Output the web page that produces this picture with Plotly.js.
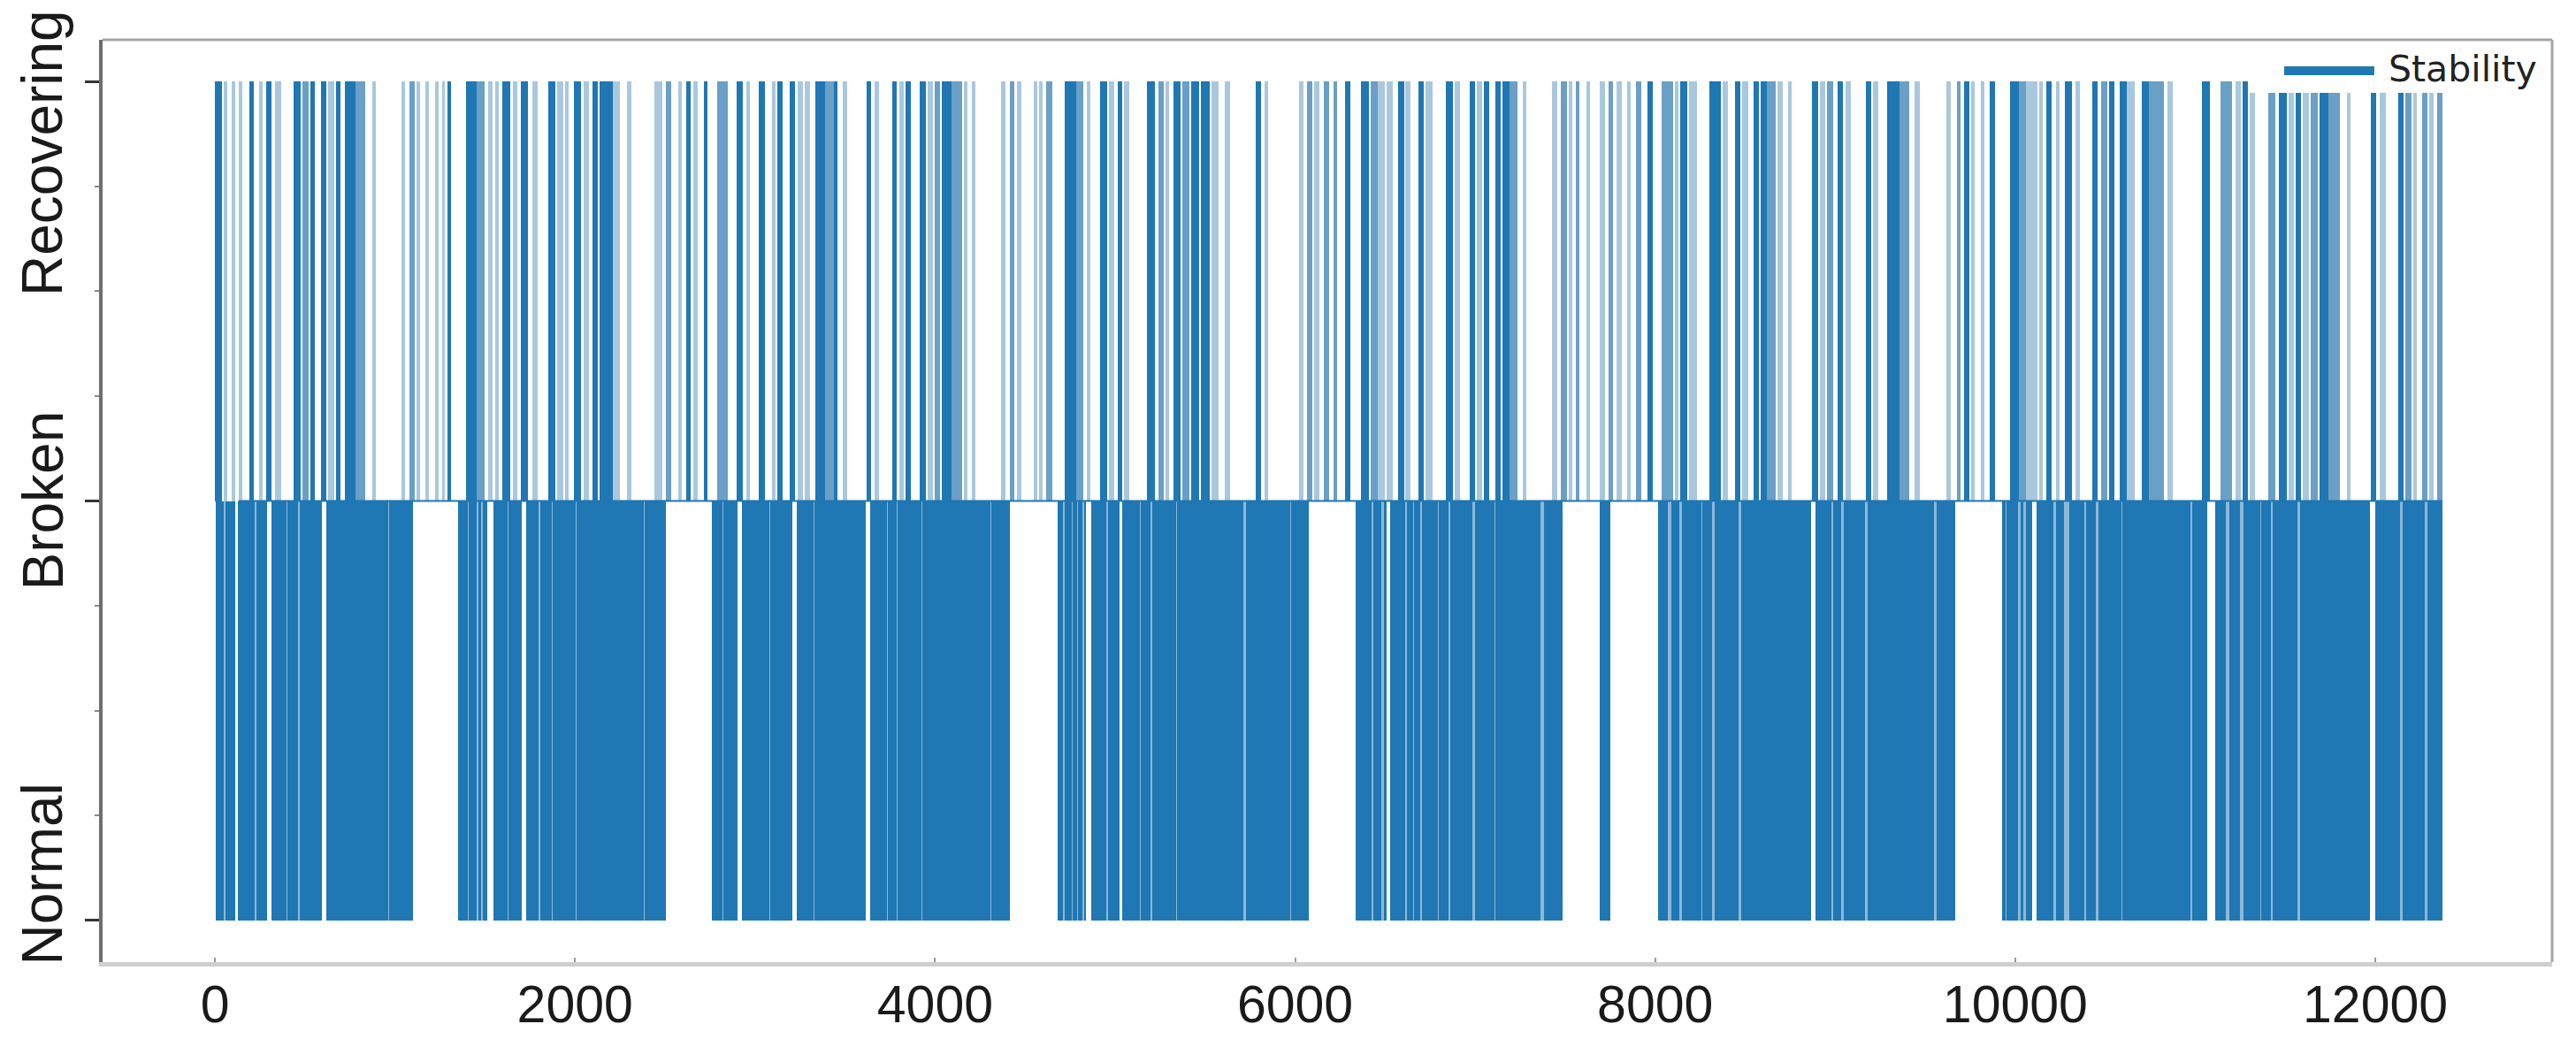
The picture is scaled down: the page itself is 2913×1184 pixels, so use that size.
<!DOCTYPE html>
<html><head><meta charset="utf-8">
<script src="https://cdn.plot.ly/plotly-3.0.1.min.js"></script>
<style>html,body{margin:0;padding:0;background:#fff}#chart{width:2913px;height:1184px}</style>
</head><body><div id="chart"></div>
<script>
// ---- data ----
const stateLabels = ['Normal', 'Broken', 'Recovering'];
const stateValues = [0, 1, 2];
const xTickValues = [0, 2000, 4000, 6000, 8000, 10000, 12000];
const xTickLabels = ['0', '2000', '4000', '6000', '8000', '10000', '12000'];
const seriesName = 'Stability';

// time span over which the signal rests at Broken between episodes
const brokenSpan = [131, 12373];

// runs where the signal keeps dropping to Normal  [start, end]
const normalRuns = [
 [5,50],[57,112],[128,223],[229,288],[314,396],[402,463],[469,594],[620,963],[969,1099],
 [1353,1404],[1408,1455],[1462,1480],[1486,1514],[1545,1626],[1632,1702],[1728,1800],[1805,1870],[1876,2003],[2008,2380],[2386,2504],
 [2758,2820],[2826,2903],[2929,3078],[3086,3208],[3232,3323],[3329,3614],[3640,3731],[3737,3785],[3793,3924],[3930,4306],[4312,4416],
 [4681,4712],[4720,4760],[4766,4790],[4796,4818],[4826,4838],[4868,4952],[4960,5025],[5040,5136],[5142,5196],[5204,5340],[5346,5712],[5728,5971],[5977,6076],
 [6337,6425],[6435,6480],[6492,6510],[6530,6610],[6620,6655],[6662,6697],[6705,6792],[6798,6850],[6860,6985],[6998,7108],[7114,7365],[7380,7488],
 [7691,7752],
 [8017,8072],[8090,8135],[8150,8258],[8264,8318],[8328,8462],[8476,8866],[8890,8980],[8988,9032],[9046,9165],[9178,9548],[9565,9664],
 [9929,9944],[9952,10015],[10030,10045],[10058,10095],[10120,10210],[10226,10272],[10298,10385],[10395,10445],[10460,10588],[10596,10974],[10982,11065],
 [11110,11168],[11190,11250],[11270,11360],[11368,11422],[11430,11565],[11580,11968],[12000,12136],[12150,12277],[12287,12373]
];

// short stretches inside those runs where drops to Normal are only occasional
const normalSparse = [
 [50,57],[223,229],[396,402],[463,469],[963,969],
 [1404,1408],[1455,1462],[1480,1486],[1626,1632],[1800,1805],[1870,1876],[2003,2008],[2380,2386],
 [2820,2826],[3078,3086],[3323,3329],[3731,3737],[3785,3793],[3924,3930],[4306,4312],
 [4712,4720],[4760,4766],[4790,4796],[4818,4826],[4952,4960],[5136,5142],[5196,5204],[5340,5346],[5712,5728],[5971,5977],
 [6425,6435],[6480,6492],[6610,6620],[6655,6662],[6697,6705],[6792,6798],[6850,6860],[6985,6998],[7108,7114],[7365,7380],
 [8072,8090],[8135,8150],[8258,8264],[8318,8328],[8462,8476],[8980,8988],[9032,9046],[9165,9178],[9548,9565],
 [9944,9952],[10015,10030],[10045,10058],[10210,10226],[10272,10298],[10385,10395],[10445,10460],[10588,10596],[10974,10982],
 [11168,11190],[11250,11270],[11360,11368],[11422,11430],[11565,11580],[12136,12150],[12277,12287]
];

// episodes up to Recovering, dense clusters  [start, end]
const recoveringDense = [
 [0,40],[192,217],[284,315],[437,478],[528,555],[590,620],[671,695],[722,783],[1292,1313],[1394,1455],[1598,1638],[1700,1740],[1852,1893],[1995,2035],[2097,2127],[2137,2209],[2616,2640],[2714,2738],[2897,2932],[3023,3054],
 [3123,3153],[3194,3224],[3336,3387],[3438,3459],[3622,3642],[3764,3789],[3835,3866],[3917,3947],[4039,4090],[4721,4782],[4915,4955],[5017,5037],[5179,5220],[5322,5363],[5424,5465],[5475,5526],[5780,5811],
 [6276,6306],[6367,6408],[6571,6606],[6683,6714],[6836,6877],[6968,6999],[7050,7080],[7111,7141],[7152,7192],[7956,7986],[8139,8180],[8302,8363],[8445,8475],[8546,8577],[8587,8618],[8872,8903],[9015,9045],[9168,9198],[9290,9359],
 [9715,9746],[9858,9888],[9970,10021],[10173,10204],[10275,10316],[10428,10458],[10520,10550],[10581,10621],[10703,10744],[11039,11080],[11263,11293],[11466,11507],[11558,11589],[11690,11741],[11976,12006],[12128,12159]
];

// episodes up to Recovering, medium density
const recoveringMedium = [
 [488,518],[783,834],[1078,1109],[1455,1496],[2504,2534],[2789,2850],
 [3387,3438],[3998,4029],[4090,4151],[4416,4440],[4619,4650],[4782,4823],[5241,5271],[5373,5414],[6065,6096],[6157,6188],
 [6215,6235],[6418,6459],[7192,7233],[7477,7508],[7559,7579],[7742,7767],[7895,7925],[8037,8098],[8618,8669],[8956,8987],
 [9359,9410],[9674,9695],[10021,10061],[10479,10509],[10744,10825],[11141,11202],[11405,11446],[11640,11680],[11741,11802],[12169,12200],[12261,12291],[12342,12373]
];

// single short episodes up to Recovering
const recoveringSparse = [
 [50,70],[91,115],[131,152],[243,264],[335,366],[630,661],[875,895],[1038,1058],[1119,1139],[1170,1190],[1221,1241],[1262,1278],[1516,1541],[1557,1577],[1655,1679],[1761,1791],[1903,1934],[1944,1964],[2046,2076],[2209,2249],[2290,2315],[2443,2484],[2575,2595],[2657,2681],[2952,2972],
 [3092,3112],[3235,3265],[3275,3306],[3489,3510],[3662,3687],[3801,3825],[3958,3988],[4161,4182],[4202,4222],[4365,4391],[4457,4481],[4548,4568],[4579,4599],[4843,4864],[4966,4996],[5047,5078],[5281,5302],[5536,5577],[5607,5638],[5831,5851],[6021,6045],[6106,6137],
 [6459,6500],[6510,6541],[6612,6642],[6724,6765],[6887,6917],[7009,7040],[7264,7284],[7426,7457],[7518,7538],[7620,7640],[7691,7722],[7783,7813],[7844,7864],[8109,8129],[8190,8231],[8373,8404],[8485,8516],[8679,8709],[8740,8760],[8913,8944],[9056,9086],[9208,9239],
 [9440,9471],[9619,9644],[9756,9776],[9807,9827],[10061,10122],[10133,10153],[10224,10245],[10336,10357],[10621,10662],[10845,10876],[11222,11253],[11303,11334],[11518,11548],[11599,11629],[11843,11863],[12026,12057],[12210,12230],[12301,12322]
];

// ---- drawing ----
const BLUE = '#1f77b4';
function runBars(runs, lo, hi, color) {
  return {
    type: 'bar',
    x: runs.map(r => (r[0] + r[1]) / 2),
    width: runs.map(r => r[1] - r[0]),
    base: runs.map(() => lo),
    y: runs.map(() => hi - lo),
    marker: {color: color, line: {width: 0}},
    showlegend: false,
    hoverinfo: 'skip'
  };
}

const traces = [
  runBars(normalRuns, stateValues[0], stateValues[1], BLUE),
  runBars(normalSparse, stateValues[0], stateValues[1], '#8db8d6'),
  runBars(recoveringSparse, stateValues[1], stateValues[2], '#a9c8dd'),
  runBars(recoveringMedium, stateValues[1], stateValues[2], '#6a9fc6'),
  runBars(recoveringDense, stateValues[1], stateValues[2], BLUE),
  {
    type: 'scatter', mode: 'lines', name: seriesName,
    x: brokenSpan, y: [stateValues[1], stateValues[1]],
    line: {color: BLUE, width: 2},
    showlegend: false, hoverinfo: 'skip'
  }
];

const labelPos = [0.11, 1.0, 1.83];
const annotations = stateLabels.map((t, i) => ({
  text: t, xref: 'paper', yref: 'y', x: 0, y: labelPos[i],
  xanchor: 'right', yanchor: 'middle', xshift: -30, textangle: -90, showarrow: false,
  font: {family: 'Liberation Sans, Arial, sans-serif', size: 64, color: '#1a1a1a'}
}));
annotations.push({
  text: seriesName, xref: 'paper', yref: 'paper', x: 0.9325, y: 0.968,
  xanchor: 'left', yanchor: 'middle', showarrow: false,
  font: {family: 'DejaVu Sans, sans-serif', size: 41, color: '#222'}
});

const layout = {
  width: 2913, height: 1184,
  margin: {l: 116, r: 27, t: 45, b: 96},
  paper_bgcolor: '#fff', plot_bgcolor: '#fff',
  barmode: 'overlay', bargap: 0,
  showlegend: false,
  xaxis: {
    range: [-624, 12982], tickmode: 'array', tickvals: xTickValues, ticktext: xTickLabels,
    ticks: 'inside', ticklen: 5, tickwidth: 2, tickcolor: '#999',
    showgrid: false, zeroline: false,
    showline: true, linecolor: '#cfcfcf', linewidth: 5,
    tickfont: {family: 'Liberation Sans, Arial, sans-serif', size: 59, color: '#1a1a1a'},
    ticklabelstandoff: -8
  },
  yaxis: {
    range: [-0.1, 2.1], tickmode: 'array', tickvals: stateValues, showticklabels: false,
    ticks: 'outside', ticklen: 16, tickwidth: 3, tickcolor: '#333',
    minor: {tickmode: 'linear', tick0: 0, dtick: 0.25, ticks: 'outside', ticklen: 5, tickwidth: 2, tickcolor: '#888'},
    showgrid: false, zeroline: false,
    showline: true, linecolor: '#6e6e6e', linewidth: 4
  },
  shapes: [
    {type: 'line', xref: 'paper', yref: 'paper', x0: 0, x1: 1, y0: 1, y1: 1, line: {color: '#a6a6a6', width: 3}},
    {type: 'line', xref: 'paper', yref: 'paper', x0: 1, x1: 1, y0: 0, y1: 1, line: {color: '#a6a6a6', width: 3}},
    {type: 'rect', xref: 'paper', yref: 'paper', x0: 0.8758, x1: 0.9985, y0: 0.9425, y1: 0.998, fillcolor: '#fff', line: {width: 0}, layer: 'above'},
    {type: 'line', xref: 'paper', yref: 'paper', x0: 0.8906, x1: 0.9274, y0: 0.9665, y1: 0.9665, line: {color: BLUE, width: 10}, layer: 'above'}
  ],
  annotations: annotations
};

Plotly.newPlot('chart', traces, layout, {displayModeBar: false, staticPlot: true});
</script>
</body></html>
